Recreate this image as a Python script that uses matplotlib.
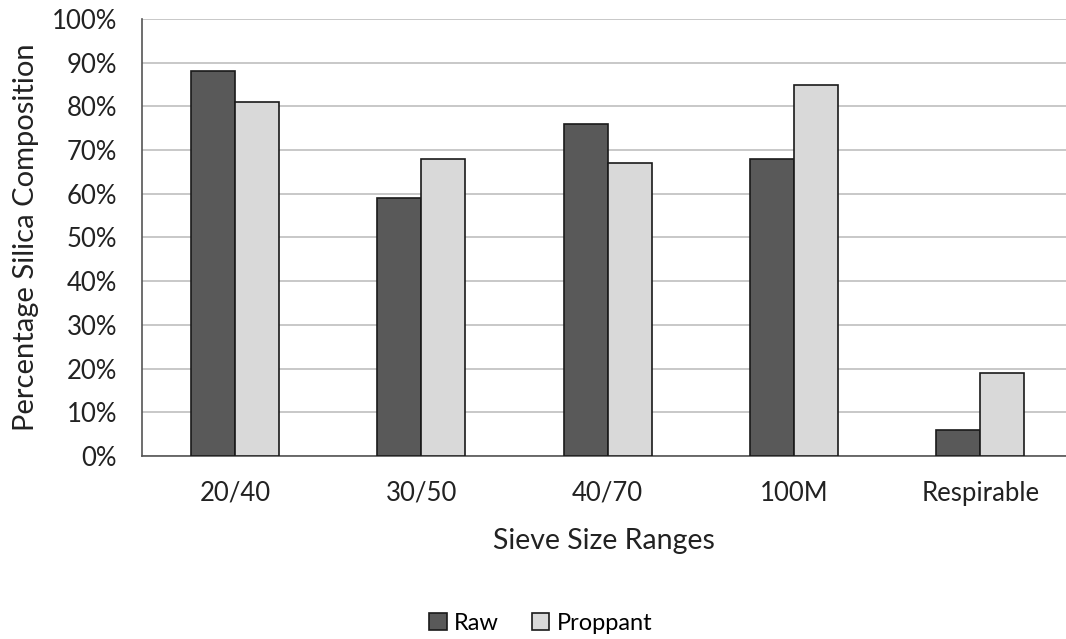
import matplotlib.pyplot as plt
import numpy as np

# sieve size categories and silica fractions (%)
categories = ['20/40', '30/50', '40/70', '100M', 'Respirable']
raw = [88, 59, 76, 68, 6]
proppant = [81, 68, 67, 85, 19]

plt.rcParams['font.family'] = ['Lato', 'DejaVu Sans']

fig = plt.figure(figsize=(10.66, 6.39), dpi=100)
ax = fig.add_axes([0.1332, 0.2864, 0.8668, 0.6839])

x = np.arange(len(categories))
w = 0.236
ax.bar(x - w / 2, raw, w, color='#595959', edgecolor='#1a1a1a', linewidth=1.2, label='Raw', zorder=3)
ax.bar(x + w / 2, proppant, w, color='#d9d9d9', edgecolor='#1a1a1a', linewidth=1.2, label='Proppant', zorder=3)

ax.set_xlim(-0.5, 4.46)
ax.set_ylim(0, 100)
ax.set_yticks(range(0, 101, 10))
ax.set_yticklabels(['%d%%' % v for v in range(0, 101, 10)])
ax.set_xticks(x)
ax.set_xticklabels(categories)
ax.tick_params(axis='both', length=0, colors='#222222')
ax.tick_params(axis='x', pad=18, labelsize=18.5)
ax.tick_params(axis='y', pad=18, labelsize=18.5)
ax.grid(axis='y', color='#bfbfbf', linewidth=1.2, zorder=0)

for s in ['top', 'right']:
    ax.spines[s].set_visible(False)
for s in ['left', 'bottom']:
    ax.spines[s].set_color('#555555')
    ax.spines[s].set_linewidth(1.2)

ax.set_xlabel('Sieve Size Ranges', fontsize=20.5, color='#222222', labelpad=16)
ax.set_ylabel('Percentage Silica Composition', fontsize=21, color='#222222', labelpad=9)

fig.legend(loc='center', bbox_to_anchor=(0.507, 0.025), ncol=2, frameon=False,
           fontsize=17, handlelength=0.75, handleheight=0.75, handletextpad=0.3, columnspacing=1.4)

fig.savefig('out.png', dpi=100)
